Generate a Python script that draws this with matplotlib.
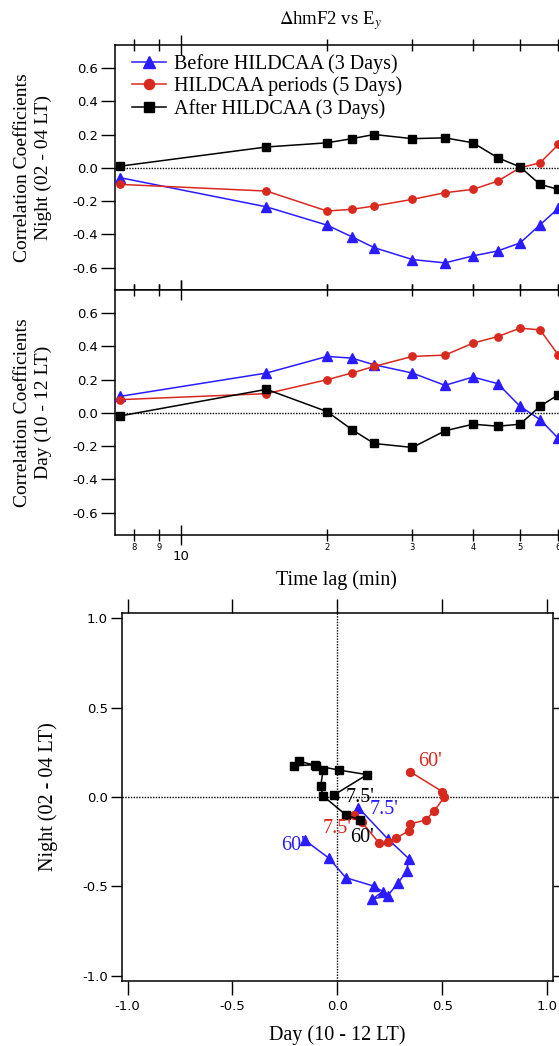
import matplotlib
matplotlib.use("Agg")
import matplotlib.pyplot as plt
from matplotlib.ticker import FixedLocator, FixedFormatter
from matplotlib.lines import Line2D

plt.rcParams['mathtext.fontset'] = 'stix'

# time lags (min)
lags = [7.5, 15, 20, 22.5, 25, 30, 35, 40, 45, 50, 55, 60]

# night (02 - 04 LT) correlation coefficients
night_before = [-0.06, -0.235, -0.345, -0.415, -0.48, -0.552, -0.572, -0.53, -0.50, -0.452, -0.343, -0.243]
night_hildcaa = [-0.10, -0.14, -0.26, -0.25, -0.23, -0.19, -0.15, -0.13, -0.08, 0.0, 0.03, 0.14]
night_after = [0.01, 0.125, 0.15, 0.175, 0.20, 0.175, 0.18, 0.15, 0.06, 0.005, -0.10, -0.13]

# day (10 - 12 LT) correlation coefficients
day_before = [0.10, 0.24, 0.34, 0.33, 0.29, 0.24, 0.166, 0.216, 0.176, 0.04, -0.04, -0.154]
day_hildcaa = [0.08, 0.116, 0.20, 0.24, 0.28, 0.34, 0.348, 0.42, 0.46, 0.51, 0.50, 0.348]
day_after = [-0.018, 0.142, 0.008, -0.10, -0.184, -0.208, -0.108, -0.068, -0.08, -0.068, 0.04, 0.11]

labels = ['Before HILDCAA (3 Days)', 'HILDCAA periods (5 Days)', 'After HILDCAA (3 Days)']
colors = ['#2a1cff', '#d8291f', 'black']
markers = ['^', 'o', 's']
msizes = [6.5, 5.3, 5.8]

minor_ticks = [8, 9, 20, 30, 40, 50, 60]
minor_labels = ['8', '9', '2', '3', '4', '5', '6']

serif = 'Liberation Serif'
W, H = 559, 1046
fig = plt.figure(figsize=(W / 100, H / 100), dpi=100)


def px_axes(left, top, right, bottom):
    return fig.add_axes([left / W, 1 - bottom / H, (right - left) / W, (bottom - top) / H])


ax1 = px_axes(114.5, 44.7, 566, 290)
ax2 = px_axes(114.5, 290, 566, 535)
ax3 = px_axes(121.7, 612.7, 552.7, 981)

night = [night_before, night_hildcaa, night_after]
day = [day_before, day_hildcaa, day_after]
yt = [-0.6, -0.4, -0.2, 0.0, 0.2, 0.4, 0.6]

for ax, series in ((ax1, night), (ax2, day)):
    ax.axhline(0, color='black', lw=1, ls=(0, (1, 1)), zorder=1)
    for ys, c, m, ms in zip(series, colors, markers, msizes):
        ax.plot(lags, ys, color=c, marker=m, ms=ms, lw=1.1, zorder=3, clip_on=False)
    ax.set_xscale('log')
    ax.set_xlim(7.29, 62.2)
    ax.set_ylim(-0.735, 0.74)
    ax.set_yticks(yt)
    ax.set_yticklabels(['%.1f' % v for v in yt])
    ax.xaxis.set_major_locator(FixedLocator([10]))
    ax.xaxis.set_minor_locator(FixedLocator(minor_ticks))
    ax.tick_params(axis='y', direction='out', length=10, width=1, labelsize=9.5, pad=2)
    ax.tick_params(axis='x', which='major', direction='inout', length=14, width=1,
                   top=True, labelsize=9.5, pad=4)
    ax.tick_params(axis='x', which='minor', direction='inout', length=9, width=1,
                   top=True, labelsize=6, pad=1)
    ax.spines['right'].set_visible(False)
    for s in ax.spines.values():
        s.set_linewidth(1.1)

ax1.tick_params(axis='x', which='both', labelbottom=False)
ax2.xaxis.set_major_formatter(FixedFormatter(['10']))
ax2.xaxis.set_minor_formatter(FixedFormatter(minor_labels))

ax1.set_ylabel('Correlation Coefficients\nNight (02 - 04 LT)', family=serif, fontsize=14,
               linespacing=1.3, va='center')
ax1.yaxis.set_label_coords(-0.1805, 0.5)
ax2.set_ylabel('Correlation Coefficients\nDay (10 - 12 LT)', family=serif, fontsize=14,
               linespacing=1.3, va='center')
ax2.yaxis.set_label_coords(-0.1805, 0.5)
ax2.set_xlabel('Time lag (min)', family=serif, fontsize=14.5, va='center')
ax2.xaxis.set_label_coords(0.492, -0.184)

handles = [Line2D([], [], color=c, marker=m, ms=ms + 2, lw=1.1) for c, m, ms in zip(colors, markers, msizes)]
ax1.legend(handles, labels, loc='upper left', bbox_to_anchor=(0.0, 1.032), frameon=False,
           prop={'family': serif, 'size': 14.5}, handlelength=1.7, handletextpad=0.4,
           labelspacing=0.14, borderaxespad=0.45)

fig.text(330 / W, 1 - 21 / H, r'$\Delta$hmF2 vs E$_y$', family=serif, fontsize=13.5,
         ha='center', va='center')

# day vs night trajectory
ax3.axhline(0, color='black', lw=1, ls=(0, (1, 1)), zorder=1)
ax3.axvline(0, color='black', lw=1, ls=(0, (1, 1)), zorder=1)
for d, n, c, m, ms in zip(day, night, colors, markers, msizes):
    ax3.plot(d, n, color=c, marker=m, ms=ms + 0.4, lw=1.1, zorder=3)

ann = [("7.5'", 0.11, -0.005, 'black'), ("7.5'", 0.22, -0.07, colors[0]),
       ("7.5'", 0.0, -0.175, colors[1]), ("60'", 0.115, -0.225, 'black'),
       ("60'", -0.21, -0.27, colors[0]), ("60'", 0.44, 0.2, colors[1])]
for txt, x, y, c in ann:
    ax3.text(x, y, txt, color=c, family=serif, fontsize=14.5, ha='center', va='center', zorder=4)

ax3.set_xlim(-1.028, 1.026)
ax3.set_ylim(-1.03, 1.031)
ticks = [-1.0, -0.5, 0.0, 0.5, 1.0]
ax3.set_xticks(ticks)
ax3.set_yticks(ticks)
ax3.set_xticklabels(['%.1f' % v for v in ticks])
ax3.set_yticklabels(['%.1f' % v for v in ticks])
ax3.tick_params(axis='both', direction='out', length=10, width=1, labelsize=9.5,
                top=True, right=True, pad=4)
ax3.tick_params(axis='y', length=8, pad=2)
for s in ax3.spines.values():
    s.set_linewidth(1.1)
ax3.set_xlabel('Day (10 - 12 LT)', family=serif, fontsize=14.5, va='center')
ax3.xaxis.set_label_coords(0.5007, -0.1466)
ax3.set_ylabel('Night (02 - 04 LT)', family=serif, fontsize=14.5, va='center')
ax3.yaxis.set_label_coords(-0.171, 0.5)

fig.savefig('out.png', dpi=100)
